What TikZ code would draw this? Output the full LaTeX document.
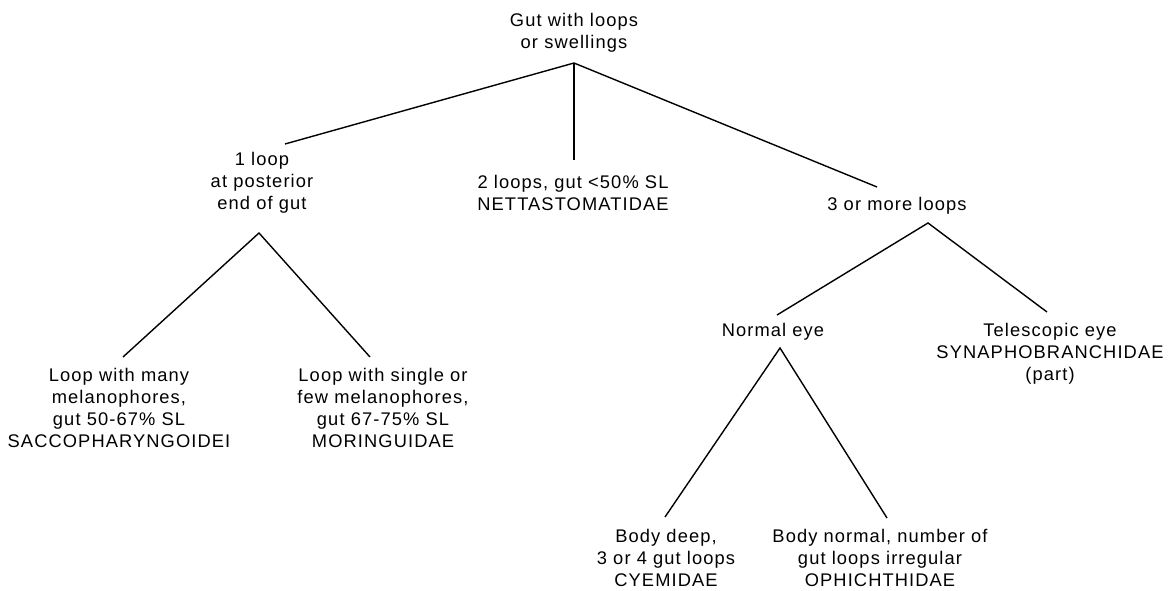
\documentclass[tikz,border=0pt]{standalone}
\usepackage{fontspec}
\setmainfont[LetterSpace=6]{Liberation Sans}
\begin{document}
\begin{tikzpicture}[x=1pt,y=-1pt,
  lbl/.style={align=center, anchor=north, inner sep=0pt, font=\fontsize{18.3}{22}\selectfont},
  br/.style={line width=1.4pt, black}]
\useasboundingbox (0,0) rectangle (1174,591);
% text nodes
\node[lbl] (root) at (574,13) {Gut with loops\\or swellings};
\node[lbl] (n1) at (262,152) {1 loop\\at posterior\\end of gut};
\node[lbl] (n2) at (573,175) {2 loops, gut <50\% SL\\NETTASTOMATIDAE};
\node[lbl] (n3) at (897,197) {3 or more loops};
\node[lbl] (n11) at (119,368) {Loop with many\\melanophores,\\gut 50-67\% SL\\SACCOPHARYNGOIDEI};
\node[lbl] (n12) at (383,368) {Loop with single or\\few melanophores,\\gut 67-75\% SL\\MORINGUIDAE};
\node[lbl] (n31) at (773,323) {Normal eye};
\node[lbl] (n32) at (1050,323) {Telescopic eye\\SYNAPHOBRANCHIDAE\\(part)};
\node[lbl] (n41) at (666,529) {Body deep,\\3 or 4 gut loops\\CYEMIDAE};
\node[lbl] (n42) at (880,529) {Body normal, number of\\gut loops irregular\\OPHICHTHIDAE};
% branch points
\coordinate (r0) at (574,63);
\coordinate (e1) at (285,144);
\coordinate (e2) at (574,160);
\coordinate (e3) at (877,187);
\coordinate (a1) at (259,233);
\coordinate (e11) at (123,357);
\coordinate (e12) at (370,357);
\coordinate (a3) at (928,223);
\coordinate (e31) at (777,315);
\coordinate (e32) at (1047,312);
\coordinate (a4) at (780,348);
\coordinate (e41) at (665,517);
\coordinate (e42) at (887,518);
% connectors
\draw[br] (e1) -- (r0) -- (e3);
\draw[br] (r0) -- (e2);
\draw[br] (e11) -- (a1) -- (e12);
\draw[br] (e31) -- (a3) -- (e32);
\draw[br] (e41) -- (a4) -- (e42);
\end{tikzpicture}
\end{document}
